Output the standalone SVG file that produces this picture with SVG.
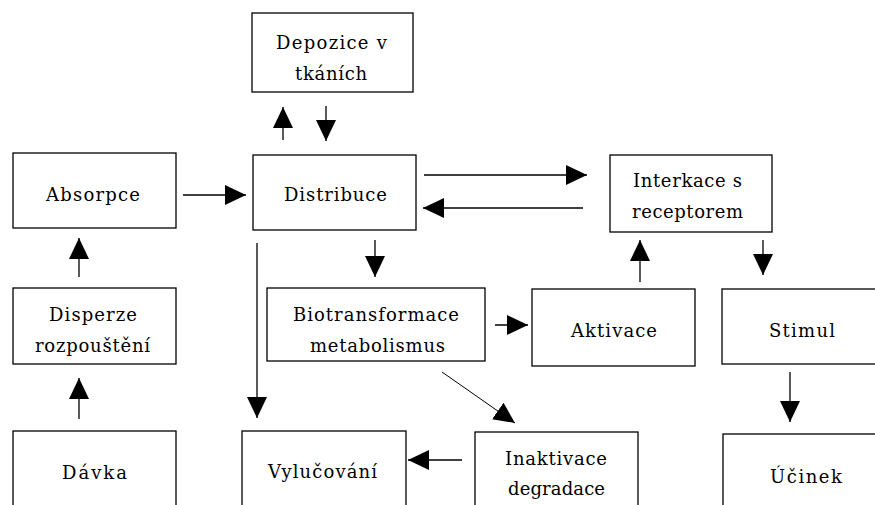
<svg xmlns="http://www.w3.org/2000/svg" width="875" height="505" viewBox="0 0 875 505">
<style>
.box{fill:#fff;stroke:#000;stroke-width:1.3}
.t{font-family:"DejaVu Serif","Liberation Serif",serif;font-size:18px;fill:#000}
.c{stroke:#000;stroke-width:1.3;fill:none;marker-end:url(#ah)}
.thin{stroke-width:1}
</style>
<defs>
<marker id="ah" markerUnits="userSpaceOnUse" markerWidth="22" markerHeight="22" refX="21" refY="10" orient="auto" viewBox="0 0 22 20">
<path d="M0,0 L21,10 L0,20 Z" fill="#000"/>
</marker>
</defs>
<rect width="875" height="505" fill="#fff"/>
<g id="depozice"><rect class="box" x="252" y="13" width="161" height="79"/>
<text class="t" x="276" y="49" textLength="111" lengthAdjust="spacing">Depozice v</text>
<text class="t" x="295" y="80" textLength="72" lengthAdjust="spacing">tkáních</text></g>
<g id="absorpce"><rect class="box" x="13" y="153" width="163" height="75"/>
<text class="t" x="46" y="201" textLength="94" lengthAdjust="spacing">Absorpce</text></g>
<g id="distribuce"><rect class="box" x="253" y="155" width="163" height="75"/>
<text class="t" x="284" y="201" textLength="103" lengthAdjust="spacing">Distribuce</text></g>
<g id="interkace"><rect class="box" x="610" y="155" width="162" height="77"/>
<text class="t" x="633" y="187" textLength="109" lengthAdjust="spacing">Interkace s</text>
<text class="t" x="632" y="218" textLength="111" lengthAdjust="spacing">receptorem</text></g>
<g id="disperze"><rect class="box" x="13" y="288" width="163" height="76"/>
<text class="t" x="49" y="321" textLength="88" lengthAdjust="spacing">Disperze</text>
<text class="t" x="35" y="352" textLength="115" lengthAdjust="spacing">rozpouštění</text></g>
<g id="biotransformace"><rect class="box" x="267" y="288" width="218" height="73"/>
<text class="t" x="293" y="321" textLength="166" lengthAdjust="spacing">Biotransformace</text>
<text class="t" x="310" y="352" textLength="135" lengthAdjust="spacing">metabolismus</text></g>
<g id="aktivace"><rect class="box" x="532" y="289" width="163" height="77"/>
<text class="t" x="571" y="337" textLength="86" lengthAdjust="spacing">Aktivace</text></g>
<g id="stimul"><rect class="box" x="722" y="289" width="170" height="75"/>
<text class="t" x="769" y="337" textLength="66" lengthAdjust="spacing">Stimul</text></g>
<g id="davka"><rect class="box" x="13" y="431" width="163" height="90"/>
<text class="t" x="62" y="479" textLength="65" lengthAdjust="spacing">Dávka</text></g>
<g id="vylucovani"><rect class="box" x="242" y="431" width="164" height="90"/>
<text class="t" x="268" y="478" textLength="109" lengthAdjust="spacing">Vylučování</text></g>
<g id="inaktivace"><rect class="box" x="475" y="432" width="163" height="90"/>
<text class="t" x="505" y="465" textLength="102" lengthAdjust="spacing">Inaktivace</text>
<text class="t" x="508" y="495" textLength="97" lengthAdjust="spacing">degradace</text></g>
<g id="ucinek"><rect class="box" x="723" y="434" width="170" height="90"/>
<text class="t" x="770" y="483" textLength="72" lengthAdjust="spacing">Účinek</text></g>
<g id="connectors">
<line class="c" x1="283" y1="140" x2="283" y2="107"/>
<line class="c" x1="326" y1="106" x2="326" y2="141"/>
<line class="c" x1="183" y1="195" x2="246" y2="195"/>
<line class="c" x1="424" y1="175" x2="587" y2="175"/>
<line class="c" x1="583" y1="208" x2="423" y2="208"/>
<line class="c" x1="375" y1="240" x2="375" y2="277"/>
<line class="c" x1="257" y1="243" x2="257" y2="418"/>
<line class="c" x1="495" y1="325" x2="528" y2="325"/>
<line class="c" x1="640" y1="282" x2="640" y2="240"/>
<line class="c" x1="763" y1="240" x2="763" y2="275"/>
<line class="c" x1="790" y1="372" x2="790" y2="422"/>
<line class="c thin" x1="442" y1="372" x2="515" y2="423"/>
<line class="c" x1="462" y1="460" x2="408" y2="460"/>
<line class="c" x1="79" y1="277" x2="79" y2="238"/>
<line class="c" x1="79" y1="419" x2="79" y2="378"/>
</g>
</svg>
